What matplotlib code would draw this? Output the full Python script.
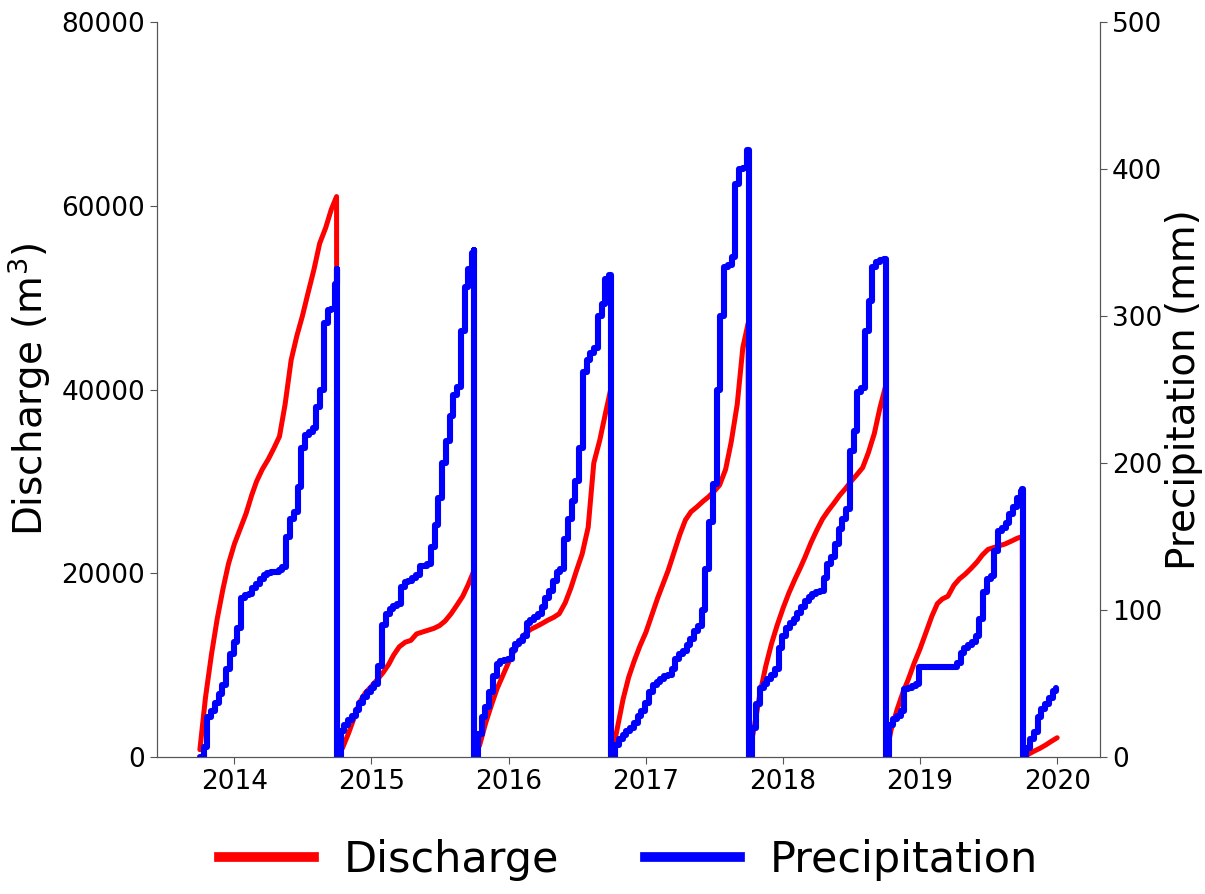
import numpy as np
import matplotlib

matplotlib.use("Agg")
import matplotlib.pyplot as plt
import matplotlib.dates as mdates
from matplotlib.lines import Line2D

# Cumulative totals per water year (1 Oct - 30 Sep), reset every October.
WATER_YEARS = [2014, 2015, 2016, 2017, 2018, 2019, 2020]

# discharge (m^3), sampled about twice a month; days since 1 Oct
Q_DAYS = [0, 15, 31, 46, 61, 76, 92, 107, 123, 138, 151, 166, 182,
          197, 212, 227, 243, 258, 273, 288, 304, 319, 335, 350, 364]
Q_2014 = [800, 6500, 11200, 15000, 18200, 21000, 23200, 24800, 26500, 28500, 30000, 31300, 32400,
          33600, 34900, 38400, 43200, 45800, 48000, 50500, 53100, 55900, 57600, 59600, 61000]
Q_2015 = [0, 1000, 2600, 4300, 6000, 7000, 7700, 8400, 9200, 10100, 11100, 12000, 12500,
          12700, 13400, 13600, 13800, 14000, 14300, 14800, 15600, 16500, 17500, 18800, 20200]
Q_2016 = [0, 1300, 3700, 5600, 7400, 8800, 10300, 11600, 12700, 13500, 13900, 14200, 14550,
          14900, 15200, 15600, 16800, 18400, 20300, 22100, 25000, 32000, 34500, 37400, 40000]
Q_2017 = [0, 3000, 6300, 8700, 10500, 12100, 13600, 15400, 17300, 18900, 20300, 22200, 24200,
          25800, 26700, 27200, 27800, 28300, 28900, 29600, 31300, 34300, 38400, 44600, 47200]
Q_2018 = [0, 3200, 7000, 9900, 12300, 14300, 16200, 17800, 19300, 20600, 21800, 23300, 24700,
          25900, 26800, 27600, 28500, 29200, 30000, 30700, 31500, 33100, 35200, 38000, 40200]
Q_2019 = [0, 3000, 5200, 7000, 8500, 10200, 11800, 13500, 15300, 16700, 17200, 17500, 18700,
          19400, 19900, 20500, 21200, 22000, 22600, 22800, 23000, 23200, 23500, 23800, 24000]
Q_2020 = [0, 300, 650, 950, 1300, 1700, 2100]

# precipitation (mm), every 10 days since 1 Oct
P_DAYS = [0, 10, 20, 30, 40, 50, 60, 70, 80, 90, 100, 110, 120, 130, 140, 150, 160, 170, 180,
          190, 200, 210, 220, 230, 240, 250, 260, 270, 280, 290, 300, 310, 320, 330, 340, 350,
          360, 364]
P_2014 = [0, 7, 27, 31, 37, 43, 49, 60, 70, 78, 88, 108, 110, 111, 115, 118, 121, 124, 125,
          126, 126, 127, 129, 150, 162, 167, 184, 210, 219, 221, 224, 238, 250, 295, 304, 305,
          322, 332]
P_2015 = [0, 18, 22, 25, 28, 32, 37, 41, 44, 47, 50, 62, 90, 97, 101, 103, 104, 116, 119,
          120, 122, 124, 130, 130, 131, 143, 158, 176, 200, 215, 232, 246, 252, 290, 320, 332,
          343, 345]
P_2016 = [0, 16, 27, 34, 44, 55, 63, 65, 66, 67, 73, 77, 79, 82, 91, 93, 95, 97, 102,
          108, 113, 120, 126, 128, 148, 162, 174, 188, 210, 262, 270, 275, 278, 300, 308, 325,
          328, 328]
P_2017 = [0, 8, 12, 15, 18, 20, 23, 28, 31, 37, 44, 49, 51, 53, 55, 56, 60, 67, 70,
          72, 76, 80, 86, 89, 100, 128, 160, 186, 250, 300, 333, 335, 340, 390, 400, 401,
          413, 413]
P_2018 = [0, 20, 36, 47, 50, 53, 56, 60, 74, 82, 88, 91, 94, 98, 102, 106, 109, 111, 112,
          113, 122, 131, 136, 145, 155, 162, 169, 208, 222, 248, 251, 290, 310, 333, 337, 338,
          339, 339]
P_2019 = [0, 22, 26, 28, 31, 46, 47, 48, 50, 61, 61, 61, 61, 61, 61, 61, 61, 61, 61,
          64, 71, 74, 76, 78, 82, 94, 112, 121, 123, 140, 154, 156, 159, 165, 170, 176,
          181, 182]
P_2020 = [0, 6, 12, 17, 27, 33, 36, 40, 45, 47]

Q_SERIES = [Q_2014, Q_2015, Q_2016, Q_2017, Q_2018, Q_2019, Q_2020]
P_SERIES = [P_2014, P_2015, P_2016, P_2017, P_2018, P_2019, P_2020]


def stitch(days, series):
    """Join the per-water-year series into one dated line."""
    t, v = [], []
    for wy, vals in zip(WATER_YEARS, series):
        start = np.datetime64(f"{wy - 1}-10-01")
        t.append(start + np.array(days[:len(vals)], dtype="timedelta64[D]"))
        v.append(np.asarray(vals, dtype=float))
    return np.concatenate(t), np.concatenate(v)


q_t, q_v = stitch(Q_DAYS, Q_SERIES)
p_t, p_v = stitch(P_DAYS, P_SERIES)

SPINE = "#555555"

fig = plt.figure(figsize=(12.05, 8.94), dpi=100)
ax = fig.add_axes([0.1303, 0.1532, 0.7826, 0.8222])
ax2 = ax.twinx()

ax.plot(q_t, q_v, color="red", lw=3.6, solid_capstyle="round")
ax2.plot(p_t, p_v, color="blue", lw=4.4, drawstyle="steps-post", solid_capstyle="round")

ax.set_ylim(0, 80000)
ax2.set_ylim(0, 500)
ax.set_yticks(np.arange(0, 80001, 20000))
ax2.set_yticks(np.arange(0, 501, 100))

ax.xaxis.set_major_locator(mdates.YearLocator())
ax.xaxis.set_major_formatter(mdates.DateFormatter("%Y"))

for a in (ax, ax2):
    a.spines["top"].set_visible(False)
    for side in ("left", "right", "bottom"):
        a.spines[side].set_color(SPINE)
    a.tick_params(colors=SPINE, labelcolor="black", labelsize=19, length=5)

ax.set_ylabel("Discharge (m$^3$)", fontsize=28, labelpad=6)
ax2.set_ylabel("Precipitation (mm)", fontsize=28, labelpad=2)

handles = [Line2D([], [], color="red", lw=7), Line2D([], [], color="blue", lw=7)]
fig.legend(handles, ["Discharge", "Precipitation"], loc="center",
           bbox_to_anchor=(0.5216, 0.038), ncol=2, frameon=False, fontsize=31,
           handlelength=2.2, handletextpad=0.7, columnspacing=2.0)

fig.savefig("out.png", dpi=100)
plt.close(fig)
